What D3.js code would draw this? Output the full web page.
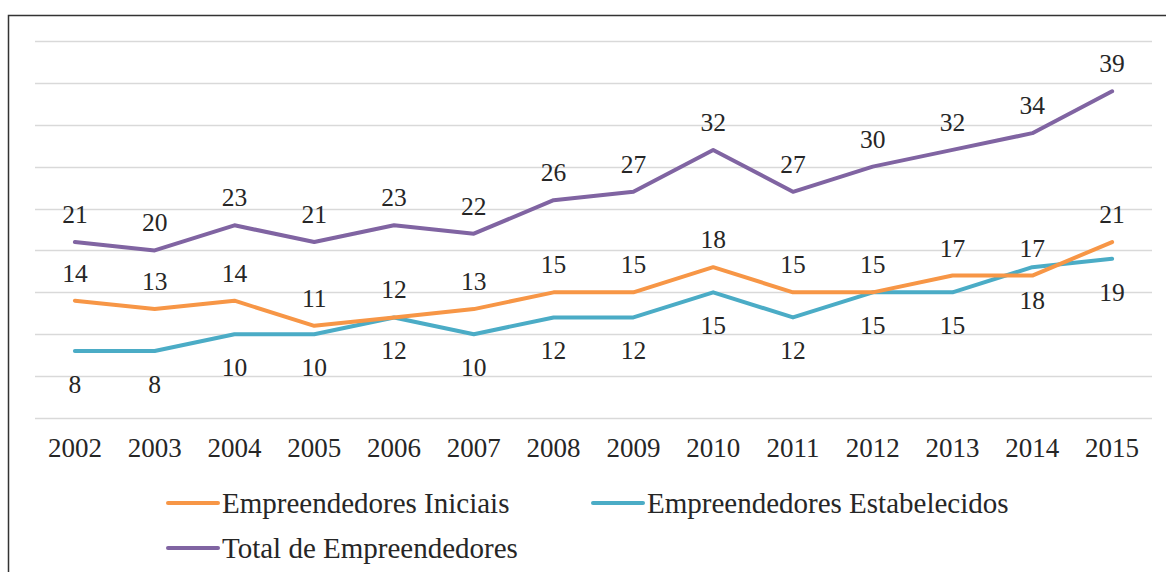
<!DOCTYPE html>
<html>
<head>
<meta charset="utf-8">
<script src="https://cdn.jsdelivr.net/npm/d3@7"></script>
<style>
  html, body { margin: 0; padding: 0; background: #fff; }
  svg { display: block; }
</style>
</head>
<body>
<svg id="chart" width="1166" height="572"></svg>
<script>
const years = ["2002","2003","2004","2005","2006","2007","2008","2009","2010","2011","2012","2013","2014","2015"];
const iniciais = [14, 13, 14, 11, 12, 13, 15, 15, 18, 15, 15, 17, 17, 21];
const estabelecidos = [8, 8, 10, 10, 12, 10, 12, 12, 15, 12, 15, 15, 18, 19];
const total = [21, 20, 23, 21, 23, 22, 26, 27, 32, 27, 30, 32, 34, 39];
const yTicks = [0, 5, 10, 15, 20, 25, 30, 35, 40, 45];
const seriesNames = ["Empreendedores Iniciais", "Empreendedores Estabelecidos", "Total de Empreendedores"];

const colors = ["#F79646", "#4BACC6", "#8064A2"];
const labelPos = ["above", "below", "above"];
const FONT = '"Times New Roman"';
const TXT = "#262626";

const svg = d3.select("#chart");

// frame
svg.append("rect").attr("x", 8.5).attr("y", 15.5).attr("width", 1170).attr("height", 600)
  .attr("fill", "none").attr("stroke", "#333").attr("stroke-width", 1.5);

const x = d3.scaleBand().domain(years).range([35, 1152]);
const y = d3.scaleLinear().domain([0, 45]).range([418, 41]);

// gridlines
svg.append("g").selectAll("line").data(yTicks).join("line")
  .attr("x1", 35).attr("x2", 1152)
  .attr("y1", d => Math.round(y(d)) + 0.5).attr("y2", d => Math.round(y(d)) + 0.5)
  .attr("stroke", "#d9d9d9").attr("stroke-width", 1.5);

// x axis labels
const xAxis = d3.axisBottom(x).tickSize(0).tickPadding(0);
const gx = svg.append("g").attr("transform", "translate(0,448)").call(xAxis);
gx.select(".domain").remove();
gx.attr("font-family", null).attr("font-size", null);
gx.selectAll("text").attr("dy", "0.35em").attr("y", 0)
  .style("font-family", FONT).style("font-size", "27px").style("fill", TXT);

const data = [iniciais, estabelecidos, total];
const line = d3.line().x((d, i) => x(years[i]) + x.bandwidth() / 2).y(d => y(d));

const order = [2, 1, 0];
order.forEach(si => {
  svg.append("path").datum(data[si]).attr("d", line)
    .attr("fill", "none").attr("stroke", colors[si]).attr("stroke-width", 4)
    .attr("stroke-linejoin", "round").attr("stroke-linecap", "round");
});

// labels
data.forEach((vals, si) => {
  svg.append("g").selectAll("text").data(vals).join("text")
    .attr("x", (d, i) => x(years[i]) + x.bandwidth() / 2)
    .attr("y", d => y(d) + (labelPos[si] === "above" ? -28 : 33))
    .attr("dy", "0.35em")
    .attr("text-anchor", "middle")
    .style("font-family", FONT).style("font-size", "25.5px").style("fill", TXT)
    .text(d => d);
});

// legend
const legendItems = [
  { name: seriesNames[0], color: colors[0], x: 168, y: 503 },
  { name: seriesNames[1], color: colors[1], x: 593, y: 503 },
  { name: seriesNames[2], color: colors[2], x: 168, y: 548 }
];
const lg = svg.append("g");
legendItems.forEach(it => {
  lg.append("line").attr("x1", it.x).attr("x2", it.x + 50).attr("y1", it.y).attr("y2", it.y)
    .attr("stroke", it.color).attr("stroke-width", 4).attr("stroke-linecap", "round");
  lg.append("text").attr("x", it.x + 54).attr("y", it.y).attr("dy", "0.35em")
    .style("font-family", FONT).style("font-size", "29px").style("fill", TXT).text(it.name);
});
</script>
</body>
</html>
